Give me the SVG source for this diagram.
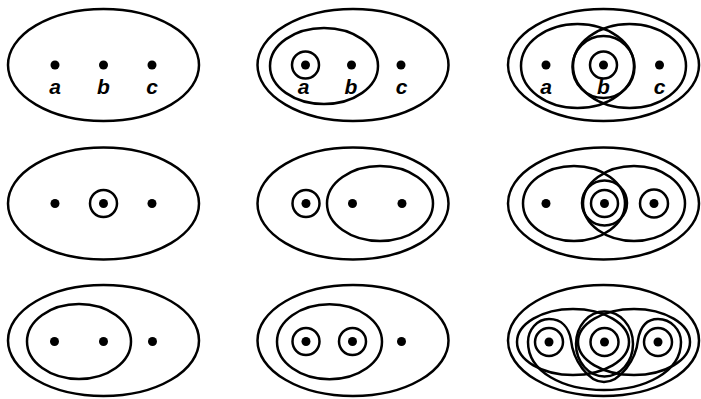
<svg xmlns="http://www.w3.org/2000/svg" width="701" height="399" viewBox="0 0 701 399">
<style>
.l{fill:none;stroke:#000;stroke-width:2.5}
.d{fill:#000}
.t{font-family:"Liberation Sans",Arial,sans-serif;font-weight:bold;font-style:italic;font-size:21px;text-anchor:middle;fill:#000}
</style>
<rect width="701" height="399" fill="#fff"/>
<g id="p1">
<ellipse class="l" cx="103.5" cy="65" rx="95.5" ry="56"/>
<circle class="d" cx="55" cy="65" r="4.5"/><circle class="d" cx="103.5" cy="65" r="4.5"/><circle class="d" cx="152" cy="65" r="4.5"/>
<text class="t" x="55" y="94">a</text><text class="t" x="103.5" y="94">b</text><text class="t" x="152" y="94">c</text>
</g>
<g id="p2">
<ellipse class="l" cx="353" cy="65" rx="95.5" ry="56"/>
<ellipse class="l" cx="324" cy="66" rx="54" ry="38"/>
<circle class="l" cx="305.5" cy="65" r="13.5"/>
<circle class="d" cx="305.5" cy="65" r="4.5"/><circle class="d" cx="351.5" cy="65" r="4.5"/><circle class="d" cx="401" cy="65" r="4.5"/>
<text class="t" x="303.5" y="94">a</text><text class="t" x="351" y="94">b</text><text class="t" x="401.5" y="94">c</text>
</g>
<g id="p3">
<ellipse class="l" cx="603.5" cy="65" rx="95.5" ry="56"/>
<ellipse class="l" cx="577.5" cy="66" rx="56.5" ry="42"/>
<ellipse class="l" cx="629.5" cy="66" rx="56.5" ry="42"/>
<circle class="l" cx="603.5" cy="67" r="31"/>
<circle class="l" cx="603.5" cy="65" r="13.5"/>
<circle class="d" cx="546" cy="65" r="4.5"/><circle class="d" cx="603.5" cy="65" r="4.5"/><circle class="d" cx="659.5" cy="65" r="4.5"/>
<text class="t" x="546" y="94">a</text><text class="t" x="603.5" y="94">b</text><text class="t" x="659.5" y="94">c</text>
</g>
<g id="p4">
<ellipse class="l" cx="103.5" cy="203.5" rx="95.5" ry="56"/>
<circle class="l" cx="103.5" cy="203.5" r="13.5"/>
<circle class="d" cx="55" cy="203.5" r="4.5"/><circle class="d" cx="103.5" cy="203.5" r="4.5"/><circle class="d" cx="152" cy="203.5" r="4.5"/>
</g>
<g id="p5">
<ellipse class="l" cx="353" cy="203.5" rx="95.5" ry="56"/>
<circle class="l" cx="306" cy="203.5" r="13.5"/>
<ellipse class="l" cx="380" cy="203.5" rx="53" ry="37.5"/>
<circle class="d" cx="306" cy="203.5" r="4.5"/><circle class="d" cx="352.5" cy="203.5" r="4.5"/><circle class="d" cx="402" cy="203.5" r="4.5"/>
</g>
<g id="p6">
<ellipse class="l" cx="603.5" cy="203.5" rx="95.5" ry="56"/>
<ellipse class="l" cx="574" cy="203.5" rx="51" ry="37.5"/>
<ellipse class="l" cx="634" cy="203.5" rx="51" ry="37.5"/>
<circle class="l" cx="604.5" cy="203" r="22.5"/>
<circle class="l" cx="604.5" cy="203.5" r="13.5"/>
<circle class="l" cx="654" cy="203.5" r="14"/>
<circle class="d" cx="546" cy="203.5" r="4.5"/><circle class="d" cx="604.5" cy="203.5" r="4.5"/><circle class="d" cx="654" cy="203.5" r="4.5"/>
</g>
<g id="p7">
<ellipse class="l" cx="103.5" cy="340.5" rx="95.5" ry="55.5"/>
<ellipse class="l" cx="79" cy="341.5" rx="52" ry="37.5"/>
<circle class="d" cx="54.5" cy="341.5" r="4.5"/><circle class="d" cx="103.5" cy="341.5" r="4.5"/><circle class="d" cx="152.5" cy="341.5" r="4.5"/>
</g>
<g id="p8">
<ellipse class="l" cx="353" cy="340.5" rx="95.5" ry="55.5"/>
<ellipse class="l" cx="329.5" cy="341.8" rx="52.5" ry="37.5"/>
<circle class="l" cx="306" cy="341.5" r="13.5"/>
<circle class="l" cx="352.5" cy="341.5" r="13.5"/>
<circle class="d" cx="306" cy="341.5" r="4.5"/><circle class="d" cx="352.5" cy="341.5" r="4.5"/><circle class="d" cx="401.5" cy="341.5" r="4.5"/>
</g>
<g id="p9">
<ellipse class="l" cx="603.5" cy="340.5" rx="95.5" ry="55.5"/>
<ellipse class="l" cx="573" cy="342" rx="56" ry="33"/>
<ellipse class="l" cx="634" cy="342" rx="56" ry="33"/>
<ellipse class="l" cx="604.5" cy="344" rx="28.5" ry="32.5"/>
<path class="l" d="M528,342 C528,330 537,319 549,319 C562,319 569,328 571,340 C573,360 588,382 604,382 C620,382 636,360 638,340 C640,328 646,319 658,319 C671,319 681,330 681,342 C681,372 645,390 604,390 C563,390 528,372 528,342 Z"/>
<circle class="l" cx="549" cy="342" r="14"/>
<circle class="l" cx="604.5" cy="342" r="14"/>
<circle class="l" cx="658" cy="342" r="14"/>
<circle class="d" cx="549" cy="342" r="4.5"/><circle class="d" cx="604.5" cy="342" r="4.5"/><circle class="d" cx="658" cy="342" r="4.5"/>
</g>
</svg>
